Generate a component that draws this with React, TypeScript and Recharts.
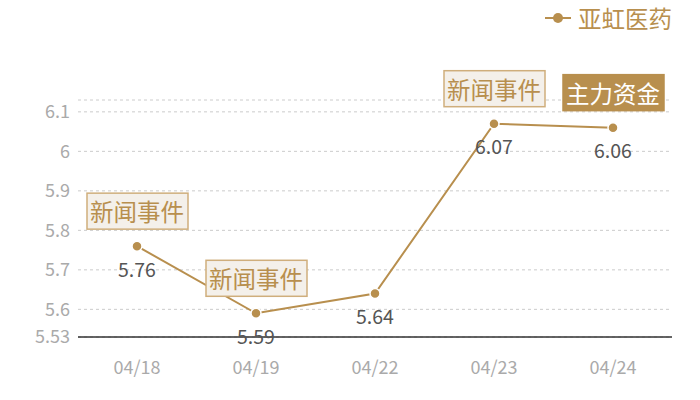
import { LineChart, Line, XAxis, YAxis, CartesianGrid, Legend, LabelList, ReferenceLine } from "recharts";

const dates = ["04/18", "04/19", "04/22", "04/23", "04/24"];
const prices = [5.76, 5.59, 5.64, 6.07, 6.06];
const events = ["新闻事件", "新闻事件", "", "新闻事件", "主力资金"];
const yTicks = [5.53, 5.6, 5.7, 5.8, 5.9, 6, 6.1, 6.13];

const gold = "#b88f4e";
const font = '"Noto Sans CJK SC", "Noto Sans", sans-serif';

const data = dates.map((date, i) => ({ date, price: prices[i], event: events[i] }));

function EventTag(props: any) {
  const { x, y, index } = props;
  const ev = events[index];
  if (!ev) return null;
  const main = ev === "主力资金";
  return (
    <g>
      <rect
        x={x - 50}
        y={y - 53}
        width={101}
        height={36}
        fill={main ? gold : "#f4f0ea"}
        stroke={main ? gold : "#cfae7c"}
        strokeWidth={1.5}
      />
      <text
        x={x}
        y={y - 35}
        textAnchor="middle"
        dominantBaseline="central"
        fontSize={23.5}
        fontFamily={font}
        fill={main ? "#fff" : gold}
      >
        {ev}
      </text>
    </g>
  );
}

function ValueLabel(props: any) {
  const { x, y, value } = props;
  return (
    <text
      x={x}
      y={y + 22}
      textAnchor="middle"
      dominantBaseline="central"
      fontSize={19.5}
      fontFamily={font}
      fill="#555"
    >
      {value}
    </text>
  );
}

function LegendBox() {
  return (
    <div style={{ display: "flex", justifyContent: "flex-end", alignItems: "center", height: 36 }}>
      <svg width={26} height={12} style={{ marginRight: 7 }}>
        <line x1={0} y1={6} x2={26} y2={6} stroke={gold} strokeWidth={2} />
        <circle cx={13} cy={6} r={5} fill={gold} />
      </svg>
      <span style={{ color: gold, fontSize: 23.5, fontFamily: font }}>亚虹医药</span>
    </div>
  );
}

export default function App() {
  return (
    <div style={{ position: "absolute", left: 0, top: 0, background: "#fff" }}>
      <LineChart width={700} height={400} data={data} margin={{ top: 64, right: 28, left: 0, bottom: 23 }}>
        <CartesianGrid vertical={false} strokeDasharray="3 3" stroke="#ccc" />
        <XAxis
          dataKey="date"
          height={40}
          padding={{ left: 59, right: 59 }}
          axisLine={{ stroke: "#333" }}
          tickLine={false}
          tickMargin={18}
          tick={{ fill: "#aaa", fontSize: 18, fontFamily: font }}
        />
        <YAxis
          width={78}
          domain={[5.53, 6.13]}
          ticks={yTicks}
          interval={0}
          axisLine={false}
          tickLine={false}
          tickFormatter={(v: number) => (v === 6.13 ? "" : String(v))}
          tick={{ fill: "#aaa", fontSize: 18, fontFamily: font }}
        />
        <ReferenceLine y={5.53} stroke="#333" strokeWidth={1} />
        <Legend
          verticalAlign="top"
          align="right"
          wrapperStyle={{ top: 0 }}
          content={() => <LegendBox />}
        />
        <Line
          dataKey="price"
          name="亚虹医药"
          stroke={gold}
          strokeWidth={2}
          dot={{ r: 5, fill: gold, stroke: "#fff", strokeWidth: 1.5 }}
          activeDot={false}
          isAnimationActive={false}
        >
          <LabelList dataKey="price" content={<ValueLabel />} />
          <LabelList dataKey="event" content={<EventTag />} />
        </Line>
      </LineChart>
    </div>
  );
}
